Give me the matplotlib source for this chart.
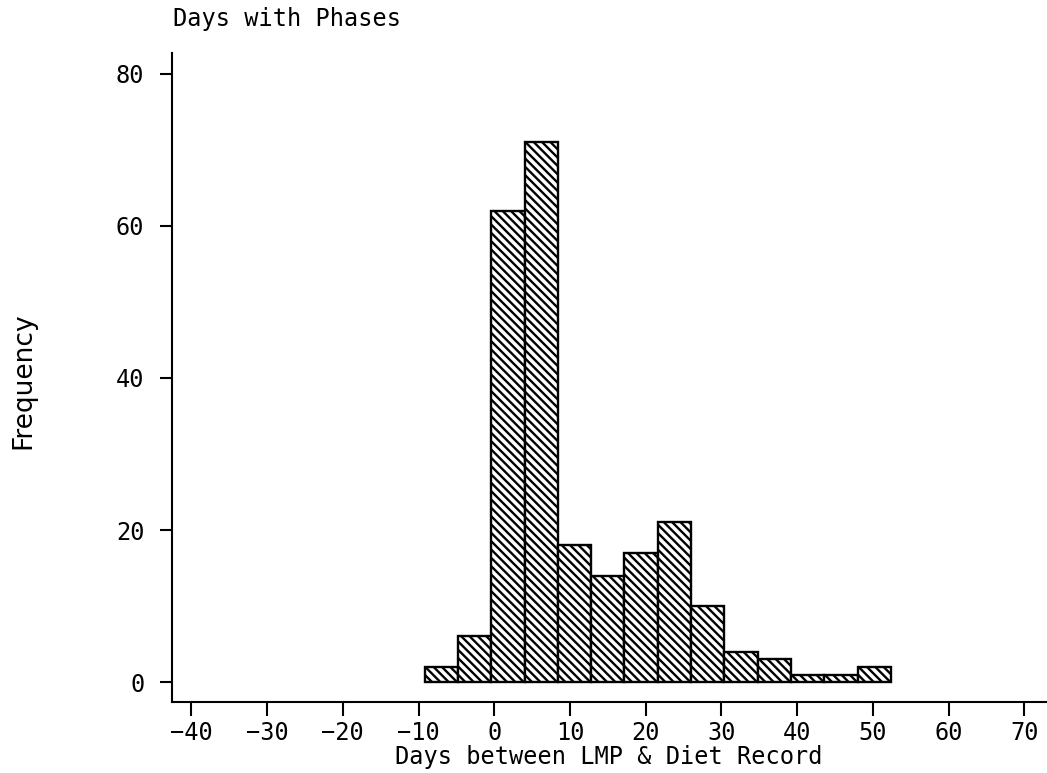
import matplotlib.pyplot as plt

# histogram bins (days) and counts
bin_left = [-9.2, -4.8, -0.4, 4.0, 8.4, 12.8, 17.2, 21.6, 26.0, 30.4, 34.8, 39.2, 43.6, 48.0]
bin_width = 4.4
counts = [2, 6, 62, 71, 18, 14, 17, 21, 10, 4, 3, 1, 1, 2]

x_ticks = [-40, -30, -20, -10, 0, 10, 20, 30, 40, 50, 60, 70]
y_ticks = [0, 20, 40, 60, 80]

plt.rcParams['font.family'] = 'DejaVu Sans Mono'
plt.rcParams['hatch.linewidth'] = 1.7

fig = plt.figure(figsize=(10.47, 7.73), dpi=100)
ax = fig.add_axes([0.164, 0.092, 0.836, 0.840])

ax.bar(bin_left, counts, width=bin_width, align='edge', color='white',
       edgecolor='black', linewidth=1.7, hatch='\\\\\\\\')

ax.set_xlim(-42.6, 73)
ax.set_ylim(-2.6, 82.8)
ax.set_xticks(x_ticks)
ax.set_xticklabels([str(t).replace('-', '\u2212') for t in x_ticks])
ax.set_yticks(y_ticks)

ax.spines['top'].set_visible(False)
ax.spines['right'].set_visible(False)
ax.spines['left'].set_linewidth(1.5)
ax.spines['bottom'].set_linewidth(1.5)
ax.tick_params(axis='x', length=10, width=1.5, pad=4, labelsize=17)
ax.tick_params(axis='y', length=8.6, width=1.5, pad=11, labelsize=17)

fig.text(0.165, 0.975, 'Days with Phases', fontsize=17, ha='left', va='center')
fig.text(0.581, 0.021, 'Days between LMP & Diet Record', fontsize=17, ha='center', va='center')
fig.text(0.022, 0.508, 'Frequency', fontsize=19, rotation=90, ha='center', va='center',
         family='DejaVu Sans')

fig.savefig('out.png', dpi=100)
